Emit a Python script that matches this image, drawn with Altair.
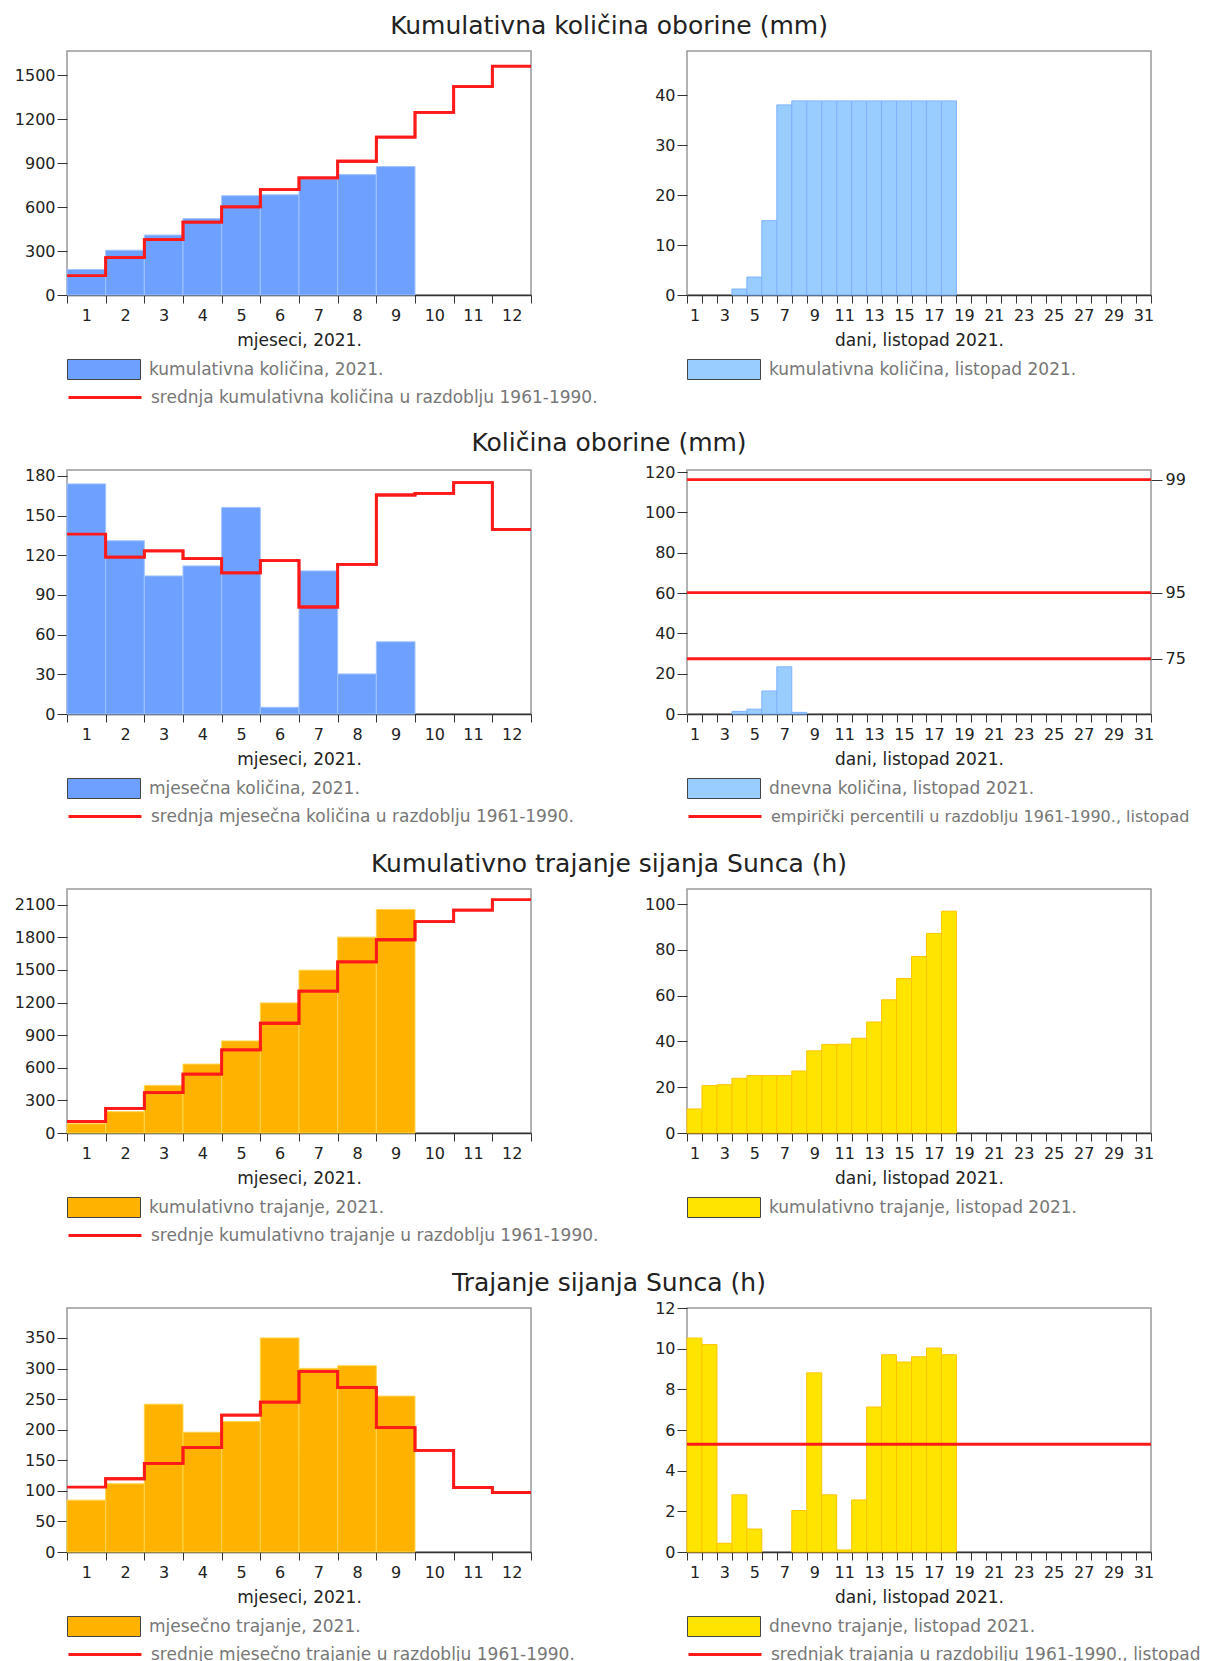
import altair as alt
import pandas as pd

FONT = "DejaVu Sans"

months = [1, 2, 3, 4, 5, 6, 7, 8, 9, 10, 11, 12]
days = list(range(1, 32))
days_obs = list(range(1, 19))

# --- Kumulativna količina oborine (mm)
cum_precip_2021 = [174, 305, 409, 521, 677, 683, 791, 821, 876]
cum_precip_mean = [132, 255, 377, 497, 601, 718, 799, 912, 1077, 1246, 1421, 1560]
cum_precip_oct = [0, 0, 0, 1.2, 3.6, 14.9, 38.1, 38.9, 38.9, 38.9, 38.9, 38.9,
                  38.9, 38.9, 38.9, 38.9, 38.9, 38.9]

# --- Količina oborine (mm)
monthly_precip_2021 = [174, 131, 104.4, 112, 156.2, 5.1, 108.2, 30.3, 54.6]
monthly_precip_mean = [136, 118.6, 123.4, 117.5, 106.7, 116, 80.9, 113.2, 165.6, 166.8, 174.9, 139.5]
daily_precip_oct = [0, 0, 0, 1.3, 2.4, 11.4, 23.4, 0.8, 0, 0, 0, 0, 0, 0, 0, 0, 0, 0]
perc_values = [116.2, 60.2, 27.4]
perc_names = ["99", "95", "75"]

# --- Kumulativno trajanje sijanja Sunca (h)
cum_sun_2021 = [85, 196, 438, 634, 847, 1197, 1498, 1802, 2057]
cum_sun_mean = [106, 226, 371, 541, 765, 1010, 1305, 1574, 1778, 1944, 2050, 2147]
cum_sun_oct = [10.5, 20.7, 21.1, 23.9, 25.1, 25.1, 25.1, 27.1, 35.9, 38.7, 38.8, 41.4,
               48.5, 58.2, 67.5, 77.1, 87.2, 96.9]

# --- Trajanje sijanja Sunca (h)
monthly_sun_2021 = [84.8, 111.6, 241.7, 195.8, 213.3, 350, 300.3, 304.6, 254.9]
monthly_sun_mean = [106.1, 119.8, 144.9, 170.6, 223.7, 245, 295.3, 269, 203.4, 166.3, 105.5, 97.3]
daily_sun_oct = [10.52, 10.2, 0.43, 2.81, 1.13, 0, 0, 2.04, 8.81, 2.81, 0.1, 2.56,
                 7.13, 9.7, 9.34, 9.6, 10.03, 9.7]
sun_mean_oct = [5.3]

W, H = 464, 244
RED = "#ff1a1a"
BLUE = "#6ea0ff"
BLUE_S = "#a2c4ff"
LBLUE = "#99ccff"
LBLUE_S = "#7fb2ff"
ORANGE = "#ffb300"
ORANGE_S = "#ffd54a"
YELLOW = "#ffe400"
YELLOW_S = "#ffc400"

RECT = "M-1,-0.274H1V0.274H-1Z"
SYM = 5329
LEG_RECT_Y = 281.5
LEG_LINE_Y = 308.5
LEG_FS = 17


def rect_legend():
    return alt.Legend(orient="none", legendX=0, legendY=LEG_RECT_Y, title=None,
                      symbolType=RECT, symbolSize=SYM, symbolStrokeColor="#444",
                      symbolStrokeWidth=1, symbolOpacity=1, labelFontSize=LEG_FS,
                      labelColor="#777", labelFont=FONT, labelOffset=8,
                      labelLimit=1000, padding=0)


def line_legend(fs=LEG_FS):
    return alt.Legend(orient="none", legendX=0, legendY=LEG_LINE_Y, title=None,
                      symbolType="stroke", symbolSize=SYM, symbolStrokeWidth=3,
                      labelFontSize=fs, labelColor="#777", labelFont=FONT,
                      labelOffset=8, labelLimit=1000, padding=0)


def yaxis(vals):
    return alt.Axis(values=vals, title=None, format="d")


def month_panel(bar_vals, fill, stroke, bar_label, line_vals, line_label, ydom, yvals,
                title=None):
    bars = pd.DataFrame({"m": months[:len(bar_vals)], "v": bar_vals, "lab": bar_label})
    line = pd.DataFrame({"m": months, "v": line_vals, "lab2": line_label})
    xs = alt.Scale(type="band", domain=months, paddingInner=0, paddingOuter=0)
    ys = alt.Scale(domain=ydom, nice=False, zero=True)
    xax = alt.Axis(title="mjeseci, 2021.", tickBand="extent", labelAngle=0)
    yax = yaxis(yvals)
    b = alt.Chart(bars).mark_bar(stroke=stroke, strokeWidth=1).encode(
        x=alt.X("m:O", scale=xs, axis=xax),
        y=alt.Y("v:Q", scale=ys, axis=yax),
        fill=alt.Fill("lab:N", scale=alt.Scale(domain=[bar_label], range=[fill]),
                      legend=rect_legend()),
    )
    stroke_enc = alt.Stroke("lab2:N", scale=alt.Scale(domain=[line_label], range=[RED]),
                            legend=line_legend())
    l1 = alt.Chart(line).mark_line(interpolate="step-after", strokeWidth=2.8).encode(
        x=alt.X("m:O", scale=xs, axis=xax, bandPosition=0),
        y=alt.Y("v:Q", scale=ys, axis=yax),
        stroke=stroke_enc,
    )
    l2 = alt.Chart(line).mark_line(interpolate="step-before", strokeWidth=2.8).encode(
        x=alt.X("m:O", scale=xs, axis=xax, bandPosition=1),
        y=alt.Y("v:Q", scale=ys, axis=yax),
        stroke=stroke_enc,
    )
    ch = alt.layer(b, l1, l2).properties(width=W, height=H)
    if title:
        ch = ch.properties(title=alt.Title(title, fontSize=25, font=FONT, fontWeight="normal",
                                           color="#222", anchor="middle", frame="group",
                                           dx=310, offset=12))
    return ch


def day_xaxis():
    return alt.Axis(title="dani, listopad 2021.", tickBand="extent", labelAngle=0,
                    labelExpr="datum.value % 2 == 1 ? datum.label : ''", labelOverlap=False)


def day_panel(vals, fill, stroke, bar_label, ydom, yvals, rule_vals=None, rule_label=None,
              right_vals=None, right_names=None, rule_fs=LEG_FS):
    bars = pd.DataFrame({"d": days_obs, "v": vals, "lab": bar_label})
    xs = alt.Scale(type="band", domain=days, paddingInner=0, paddingOuter=0)
    ys = alt.Scale(domain=ydom, nice=False, zero=True)
    b = alt.Chart(bars).transform_filter("datum.v > 0").mark_bar(
        stroke=stroke, strokeWidth=1).encode(
        x=alt.X("d:O", scale=xs, axis=day_xaxis()),
        y=alt.Y("v:Q", scale=ys, axis=yaxis(yvals)),
        fill=alt.Fill("lab:N", scale=alt.Scale(domain=[bar_label], range=[fill]),
                      legend=rect_legend()),
    )
    if rule_vals is None:
        return b.properties(width=W, height=H)
    rules = pd.DataFrame({"v": rule_vals, "lab2": rule_label})
    if right_vals:
        expr = "''"
        for val, name in zip(right_vals, right_names):
            expr = f"abs(datum.value - {val}) < 0.01 ? '{name}' : ({expr})"
        rax = alt.Axis(orient="right", values=right_vals, labelExpr=expr, title=None,
                       domain=False, tickSize=11, labelPadding=3)
    else:
        rax = yaxis(yvals)
    r = alt.Chart(rules).mark_rule(strokeWidth=2.8).encode(
        y=alt.Y("v:Q", scale=ys, axis=rax),
        stroke=alt.Stroke("lab2:N", scale=alt.Scale(domain=[rule_label], range=[RED]),
                          legend=line_legend(rule_fs)),
    )
    ch = alt.layer(b, r).properties(width=W, height=H)
    if right_vals:
        ch = ch.resolve_axis(y="independent")
    return ch


panels = [
    month_panel(cum_precip_2021, BLUE, BLUE_S, "kumulativna količina, 2021.",
                cum_precip_mean, "srednja kumulativna količina u razdoblju 1961-1990.",
                [0, 1664], [0, 300, 600, 900, 1200, 1500],
                title="Kumulativna količina oborine (mm)"),
    day_panel(cum_precip_oct, LBLUE, LBLUE_S, "kumulativna količina, listopad 2021.",
              [0, 48.9], [0, 10, 20, 30, 40]),
    month_panel(monthly_precip_2021, BLUE, BLUE_S, "mjesečna količina, 2021.",
                monthly_precip_mean, "srednja mjesečna količina u razdoblju 1961-1990.",
                [0, 184.5], [0, 30, 60, 90, 120, 150, 180],
                title="Količina oborine (mm)"),
    day_panel(daily_precip_oct, LBLUE, LBLUE_S, "dnevna količina, listopad 2021.",
              [0, 121], [0, 20, 40, 60, 80, 100, 120],
              rule_vals=perc_values,
              rule_label="empirički percentili u razdoblju 1961-1990., listopad",
              right_vals=perc_values, right_names=perc_names, rule_fs=16),
    month_panel(cum_sun_2021, ORANGE, ORANGE_S, "kumulativno trajanje, 2021.",
                cum_sun_mean, "srednje kumulativno trajanje u razdoblju 1961-1990.",
                [0, 2245], [0, 300, 600, 900, 1200, 1500, 1800, 2100],
                title="Kumulativno trajanje sijanja Sunca (h)"),
    day_panel(cum_sun_oct, YELLOW, YELLOW_S, "kumulativno trajanje, listopad 2021.",
              [0, 106.6], [0, 20, 40, 60, 80, 100]),
    month_panel(monthly_sun_2021, ORANGE, ORANGE_S, "mjesečno trajanje, 2021.",
                monthly_sun_mean, "srednje mjesečno trajanje u razdoblju 1961-1990.",
                [0, 399], [0, 50, 100, 150, 200, 250, 300, 350],
                title="Trajanje sijanja Sunca (h)"),
    day_panel(daily_sun_oct, YELLOW, YELLOW_S, "dnevno trajanje, listopad 2021.",
              [0, 12], [0, 2, 4, 6, 8, 10, 12],
              rule_vals=sun_mean_oct,
              rule_label="srednjak trajanja u razdobilju 1961-1990., listopad"),
]

chart = alt.concat(
    *panels, columns=2, spacing=alt.RowColnumber(row=175, column=156), bounds="flush"
).resolve_scale(
    fill="independent", stroke="independent"
).properties(
    padding={"left": 5, "top": 5, "right": 0, "bottom": 5}
).configure_view(
    stroke="#999999", strokeWidth=1.5
).configure_axis(
    labelFont=FONT, labelFontSize=16, labelColor="#222",
    titleFont=FONT, titleFontSize=17, titleColor="#222", titleFontWeight="normal",
    tickColor="#333", domainColor="#333", grid=False,
).configure_axisX(
    tickSize=8, labelPadding=4, titlePadding=9, domainWidth=1.5,
).configure_axisY(
    domain=False, tickSize=10, labelPadding=2,
)

chart.save("out.html", embed_options={"renderer": "svg", "actions": False})
